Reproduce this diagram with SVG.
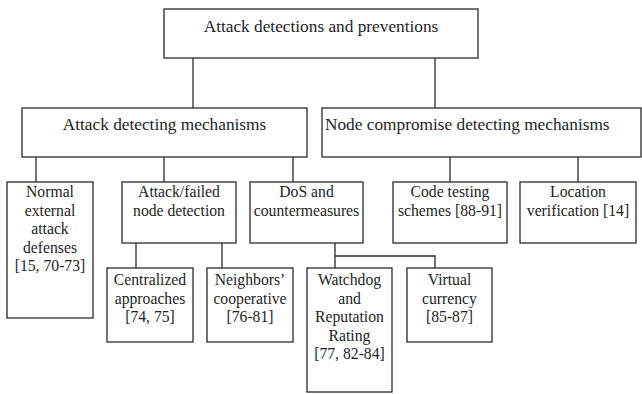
<svg xmlns="http://www.w3.org/2000/svg" width="642" height="394" viewBox="0 0 642 394">
<style>
rect{fill:#fff;stroke:#2a2a2a;stroke-width:1.3}
.c line,.c path{stroke:#2a2a2a;stroke-width:1.3;fill:none}
text{font-family:'Liberation Serif','Tinos','DejaVu Serif',serif;fill:#1e1e1e;text-anchor:middle}
.h{font-size:17.3px}
.s{font-size:15.7px}
</style>
<rect x="0" y="0" width="642" height="394" style="stroke:none"/>
<g class="c" id="connectors">
<line x1="193" y1="58" x2="193" y2="108"/>
<line x1="435" y1="58" x2="435" y2="108"/>
<line x1="36" y1="157" x2="36" y2="182"/>
<line x1="164" y1="157" x2="164" y2="182"/>
<line x1="293" y1="157" x2="293" y2="182"/>
<line x1="450" y1="157" x2="450" y2="182"/>
<line x1="578" y1="157" x2="578" y2="182"/>
<line x1="136" y1="243" x2="136" y2="268"/>
<line x1="222" y1="243" x2="222" y2="268"/>
<line x1="335" y1="243" x2="335" y2="268"/>
<path d="M335 256H435V268"/>
</g>
<g id="root"><rect x="164" y="9" width="314" height="49"/><text class="h" x="321" y="32">Attack detections and preventions</text></g>
<g id="attack-detecting"><rect x="22" y="108" width="285" height="49"/><text class="h" x="164.5" y="130">Attack detecting mechanisms</text></g>
<g id="node-compromise"><rect x="322" y="108" width="319" height="49"/><text class="h" x="325" y="130" style="text-anchor:start">Node compromise detecting mechanisms</text></g>
<g id="normal"><rect x="7" y="182" width="86" height="136"/><text class="s" x="50" y="197">Normal</text><text class="s" x="50" y="215.5">external</text><text class="s" x="50" y="234">attack</text><text class="s" x="50" y="252.5">defenses</text><text class="s" x="50" y="271">[15, 70-73]</text></g>
<g id="attack-failed"><rect x="122" y="182" width="114" height="61"/><text class="s" x="179" y="197">Attack/failed</text><text class="s" x="179" y="215.5">node detection</text></g>
<g id="dos"><rect x="250" y="182" width="113" height="61"/><text class="s" x="306.5" y="197">DoS and</text><text class="s" x="306.5" y="215.5">countermeasures</text></g>
<g id="code-testing"><rect x="393" y="182" width="114" height="61"/><text class="s" x="450" y="197">Code testing</text><text class="s" x="450" y="215.5">schemes [88-91]</text></g>
<g id="location"><rect x="520" y="182" width="116" height="61"/><text class="s" x="578" y="197">Location</text><text class="s" x="578" y="215.5">verification [14]</text></g>
<g id="centralized"><rect x="107" y="268" width="86" height="74"/><text class="s" x="150" y="285">Centralized</text><text class="s" x="150" y="303.5">approaches</text><text class="s" x="150" y="322">[74, 75]</text></g>
<g id="neighbors"><rect x="207" y="268" width="86" height="74"/><text class="s" x="250" y="285">Neighbors’</text><text class="s" x="250" y="303.5">cooperative</text><text class="s" x="250" y="322">[76-81]</text></g>
<g id="watchdog"><rect x="307" y="268" width="85" height="124"/><text class="s" x="349.5" y="285">Watchdog</text><text class="s" x="349.5" y="303.5">and</text><text class="s" x="349.5" y="322">Reputation</text><text class="s" x="349.5" y="340.5">Rating</text><text class="s" x="349.5" y="359">[77, 82-84]</text></g>
<g id="virtual"><rect x="407" y="268" width="85" height="74"/><text class="s" x="449.5" y="285">Virtual</text><text class="s" x="449.5" y="303.5">currency</text><text class="s" x="449.5" y="322">[85-87]</text></g>
</svg>
